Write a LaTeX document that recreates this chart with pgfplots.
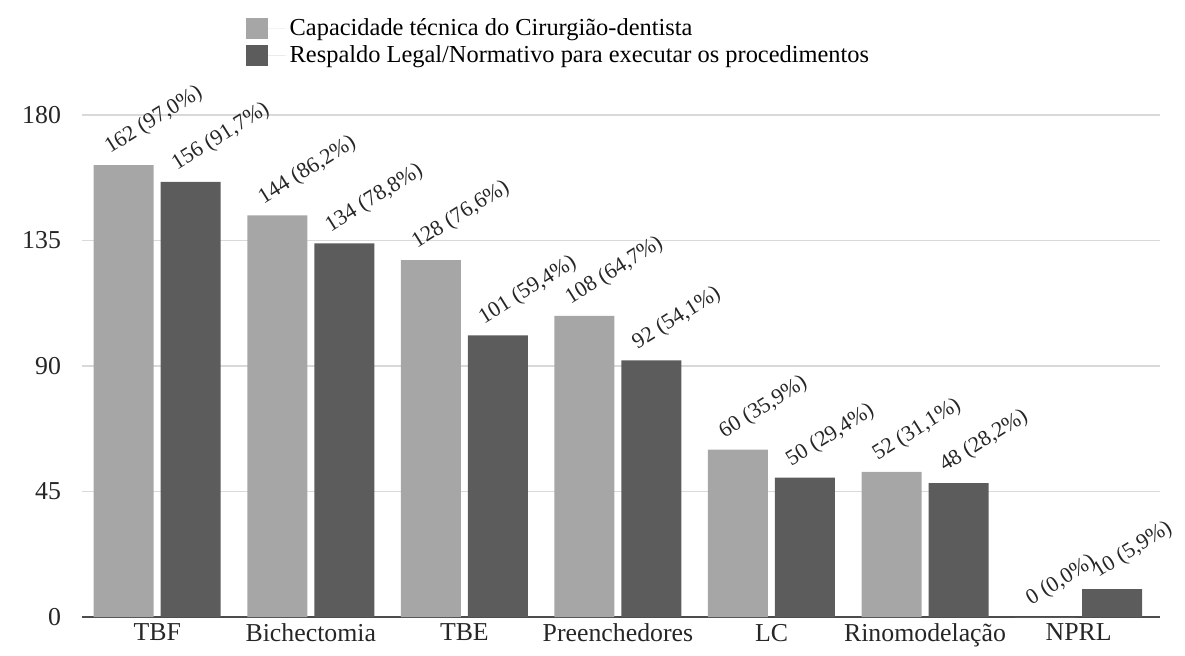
\documentclass[border=0pt]{standalone}
\usepackage{pgfplots}
\pgfplotsset{compat=1.18}
\usepackage{pgfplotstable}
\usepackage{fontspec}
\setmainfont{Liberation Serif}
\definecolor{lightbar}{HTML}{A6A6A6}
\definecolor{darkbar}{HTML}{5C5C5C}
\pgfplotstableread[col sep=semicolon]{
x;a;b;la;lb
0;162;156;162 (97,0\%);156 (91,7\%)
1;144;134;144 (86,2\%);134 (78,8\%)
2;128;101;128 (76,6\%);101 (59,4\%)
3;108;92;108 (64,7\%);92 (54,1\%)
4;60;50;60 (35,9\%);50 (29,4\%)
5;52;48;52 (31,1\%);48 (28,2\%)
6;0;10;0 (0,0\%);10 (5,9\%)
}\data
\begin{document}
\begin{tikzpicture}
\begin{axis}[
  scale only axis, width=539pt, height=251pt,
  ybar=3.5pt, bar width=30pt,
  xmin=-0.49, xmax=6.53, ymin=0, ymax=180,
  xtick=data,
  xticklabels={TBF,Bichectomia,TBE,Preenchedores,LC,Rinomodelação,NPRL},
  ytick={0,45,90,135,180},
  ymajorgrids, grid style={draw=black!15, line width=0.7pt},
  axis lines*=left,
  y axis line style={draw=none},
  x axis line style={draw=black!70, line width=1.2pt, -},
  major tick length=0pt,
  /pgf/number format/assume math mode=true,
  tick label style={font=\fontsize{12.9}{15}\selectfont, text=black!85},
  yticklabel style={xshift=-7pt},
  nodes near coords, point meta=explicit symbolic,
  every node near coord/.append style={font=\fontsize{11}{13}\selectfont, text=black!85, xshift=-6pt, yshift=2pt, rotate=32, anchor=south west, inner sep=1pt},
  clip=false,
  legend style={draw=none, fill=none, at={(0.1515,1.20)}, anchor=north west,
    font=\fontsize{12.2}{14}\selectfont, legend cell align=left, row sep=-0.5pt, inner sep=0pt},
  legend image code/.code={\fill[#1] (0pt,-5.25pt) rectangle (11pt,5.25pt); \path (0pt,0pt) -- (20pt,0pt);},
]
\addplot[fill=lightbar, draw=none] table[x=x, y=a, meta=la]{\data};
\addplot[fill=darkbar, draw=none] table[x=x, y=b, meta=lb]{\data};
\legend{Capacidade técnica do Cirurgião-dentista, Respaldo Legal/Normativo para executar os procedimentos}
\end{axis}
\pgfresetboundingbox
\path (current axis.south west) ++(-41pt,-19pt) rectangle ++(592.5pt,327.5pt);
\end{tikzpicture}
\end{document}
